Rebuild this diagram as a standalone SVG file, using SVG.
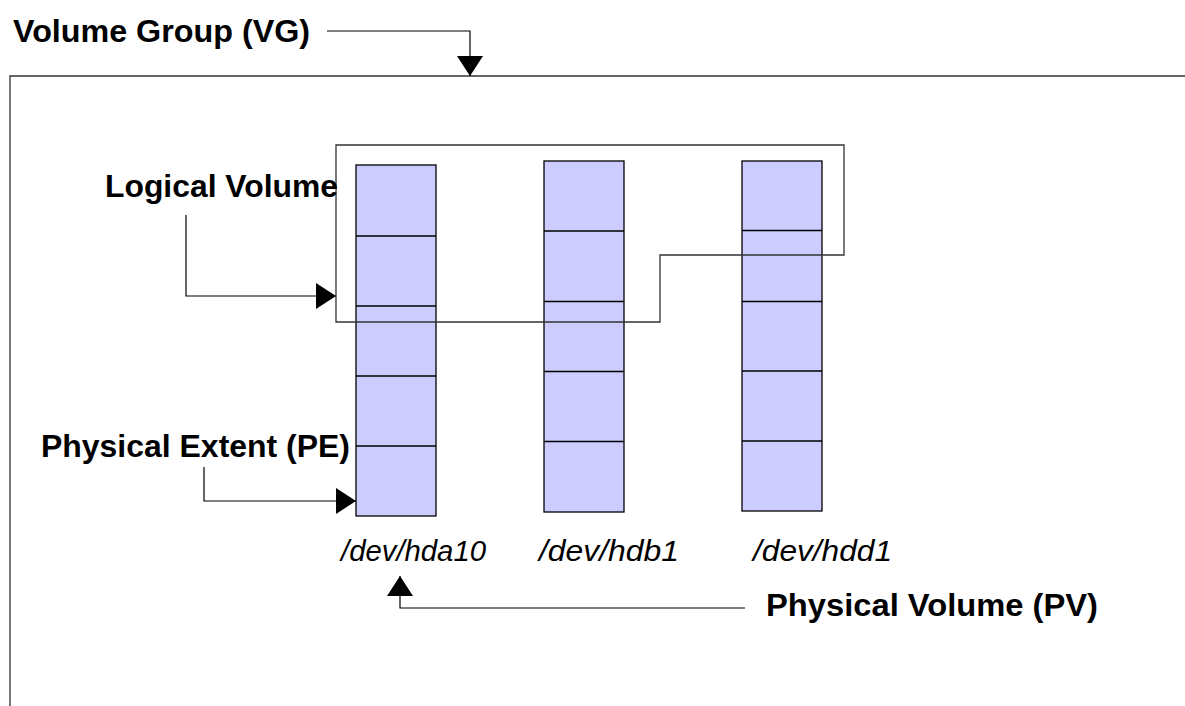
<svg xmlns="http://www.w3.org/2000/svg" width="1185" height="706" viewBox="0 0 1185 706">
<style>
.lbl{font-family:"Liberation Sans",Arial,sans-serif;font-weight:bold;font-size:31px;fill:#000}
.dev{font-family:"Liberation Sans",Arial,sans-serif;font-style:italic;font-size:29px;fill:#000}
.pv{fill:#ccccff;stroke:#000;stroke-width:1.3}
.div{stroke:#000;stroke-width:1.3}
.conn{fill:none;stroke:#000;stroke-width:1.2}
.frame{fill:none;stroke:#333;stroke-width:1.3}
</style>
<defs>
<marker id="ah" markerUnits="userSpaceOnUse" markerWidth="22" markerHeight="26" refX="20" refY="13" orient="auto" viewBox="0 0 22 26">
<path d="M0,0 L20,13 L0,26 Z" fill="#000"/>
</marker>
</defs>
<rect width="1185" height="706" fill="#fff"/>
<g id="vg-frame">
<path class="frame" d="M10,706 L10,76 L1185,76"/>
</g>
<g id="pv-hda10">
<rect class="pv" x="356" y="165" width="80" height="351"/>
<line class="div" x1="356" y1="236" x2="436" y2="236"/>
<line class="div" x1="356" y1="306" x2="436" y2="306"/>
<line class="div" x1="356" y1="376" x2="436" y2="376"/>
<line class="div" x1="356" y1="446" x2="436" y2="446"/>
<text class="dev" x="341" y="561" textLength="145" lengthAdjust="spacingAndGlyphs">/dev/hda10</text>
</g>
<g id="pv-hdb1">
<rect class="pv" x="544" y="161" width="80" height="351"/>
<line class="div" x1="544" y1="231" x2="624" y2="231"/>
<line class="div" x1="544" y1="301.5" x2="624" y2="301.5"/>
<line class="div" x1="544" y1="371.5" x2="624" y2="371.5"/>
<line class="div" x1="544" y1="441.5" x2="624" y2="441.5"/>
<text class="dev" x="539" y="561" textLength="140" lengthAdjust="spacingAndGlyphs">/dev/hdb1</text>
</g>
<g id="pv-hdd1">
<rect class="pv" x="742" y="161" width="80" height="350"/>
<line class="div" x1="742" y1="230.5" x2="822" y2="230.5"/>
<line class="div" x1="742" y1="301.5" x2="822" y2="301.5"/>
<line class="div" x1="742" y1="371" x2="822" y2="371"/>
<line class="div" x1="742" y1="441" x2="822" y2="441"/>
<text class="dev" x="753" y="561" textLength="139" lengthAdjust="spacingAndGlyphs">/dev/hdd1</text>
</g>
<g id="logical-volume">
<path class="frame" d="M336,145 L844,145 L844,255 L660,255 L660,322 L336,322 Z"/>
</g>
<g id="labels">
<text id="lbl-vg" class="lbl" x="13" y="42" textLength="297" lengthAdjust="spacingAndGlyphs">Volume Group (VG)</text>
<text id="lbl-lv" class="lbl" x="105" y="197" textLength="233" lengthAdjust="spacingAndGlyphs">Logical Volume</text>
<text id="lbl-pe" class="lbl" x="41" y="457" textLength="309" lengthAdjust="spacingAndGlyphs">Physical Extent (PE)</text>
<text id="lbl-pv" class="lbl" x="766" y="616" textLength="332" lengthAdjust="spacingAndGlyphs">Physical Volume (PV)</text>
</g>
<g id="connectors">
<path class="conn" d="M327,31 L470,31 L470,76" marker-end="url(#ah)"/>
<path class="conn" d="M186,215 L186,296 L336,296" marker-end="url(#ah)"/>
<path class="conn" d="M204,467 L204,501 L356,501" marker-end="url(#ah)"/>
<path class="conn" d="M745,608 L400,608 L400,576" marker-end="url(#ah)"/>
</g>
</svg>
